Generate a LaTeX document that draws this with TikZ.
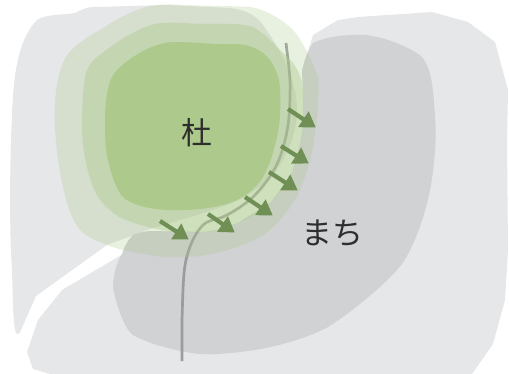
\documentclass[tikz,border=0pt]{standalone}
\usepackage{fontspec}
\newfontfamily\cjk{Noto Sans CJK JP}
\usetikzlibrary{arrows.meta}
\definecolor{lightgray}{HTML}{E6E7E9}
\definecolor{darkgray}{HTML}{D1D2D4}
\definecolor{forest}{HTML}{ADC98B}
\definecolor{arrowgreen}{HTML}{6F8F55}
\definecolor{road}{HTML}{9A9C9F}
\definecolor{ink}{HTML}{2E2E2E}
\tikzset{
  blob/.style={draw=none},
  flow/.style={draw=arrowgreen,line width=4.2pt,-{Triangle[length=15pt,width=18pt,fill=arrowgreen]},shorten >=-1pt},
  lab/.style={text=ink,font=\cjk\fontsize{31}{31}\selectfont,inner sep=0pt}
}
\begin{document}
\begin{tikzpicture}[x=1pt,y=-1pt]
\useasboundingbox (0,0) rectangle (509,374);
% left grey blob
\fill[lightgray] (17,334) .. controls (13,332) and (13,300) .. (12,270)
  .. controls (9,230) and (10,150) .. (12,117)
  .. controls (13,80) and (17,40) .. (37,20)
  .. controls (45,14) and (65,15) .. (75,13)
  .. controls (82,10) and (85,7) .. (95,7)
  -- (167,5) -- (230,8)
  .. controls (245,10) and (255,14) .. (263,25)
  .. controls (275,42) and (297,75) .. (297,110)
  .. controls (297,135) and (285,165) .. (265,182)
  .. controls (245,200) and (225,206) .. (200,214)
  -- (150,229) -- (107,245) -- (36,296)
  -- (21,330) .. controls (20,333) and (18,335) .. (17,334) -- cycle;
% right grey blob
\fill[lightgray] (27,352) -- (33,369) -- (50,374) -- (472,374) -- (493,344)
  -- (505,300) -- (508,250) -- (507,143) -- (508,90) -- (495,42) -- (468,22) -- (432,12)
  -- (358,17) -- (338,20) -- (313,35) -- (302,70)
  .. controls (303,90) and (304,115) .. (302,133)
  .. controls (299,150) and (295,165) .. (290,177)
  .. controls (280,190) and (275,198) .. (270,203)
  .. controls (255,213) and (245,218) .. (240,222)
  .. controls (225,228) and (215,231) .. (203,232)
  -- (150,231) .. controls (143,232) and (137,233) .. (133,235)
  -- (123,254) -- (62,290) -- (38,320) -- cycle;
% dark grey blob
\fill[darkgray] (302,72) .. controls (304,60) and (308,50) .. (313,43)
  .. controls (325,37) and (345,34) .. (365,35)
  .. controls (385,37) and (410,47) .. (422,57)
  .. controls (430,67) and (433,80) .. (435,117)
  .. controls (437,140) and (434,170) .. (430,190)
  .. controls (425,215) and (415,245) .. (402,264)
  .. controls (390,280) and (355,310) .. (328,327)
  .. controls (310,337) and (280,346) .. (255,350)
  .. controls (235,353) and (215,355) .. (200,354)
  .. controls (185,353) and (150,345) .. (133,335)
  .. controls (125,330) and (116,305) .. (113,287)
  .. controls (113,275) and (117,262) .. (122,254)
  .. controls (125,245) and (128,240) .. (133,235)
  .. controls (137,233) and (143,232) .. (150,231)
  -- (203,232)
  .. controls (215,231) and (225,228) .. (240,222)
  .. controls (245,218) and (255,213) .. (270,203)
  .. controls (275,198) and (280,190) .. (290,177)
  .. controls (295,165) and (299,150) .. (302,133)
  .. controls (304,115) and (303,90) .. (302,72) -- cycle;
% road line
\coordinate (roadstart) at (286,43);
\coordinate (roadend) at (182,361);
\draw[road,line width=2.7pt] (roadstart)
  .. controls (288,60) and (291,80) .. (290,93)
  .. controls (290,115) and (288,135) .. (280,157)
  .. controls (276,168) and (268,182) .. (253,197)
  .. controls (243,206) and (233,212) .. (223,217)
  .. controls (213,220) and (207,221) .. (203,225)
  .. controls (195,233) and (190,245) .. (187,256)
  .. controls (183,270) and (183,290) .. (182,320)
  -- (roadend);
% forest layers
\fill[forest,fill opacity=.28] (55,127)
  .. controls (54,105) and (55,75) .. (67,55)
  .. controls (75,45) and (90,35) .. (100,30)
  .. controls (115,20) and (130,12) .. (143,8)
  .. controls (155,4) and (170,4) .. (185,5)
  .. controls (210,6) and (235,6) .. (250,7)
  .. controls (265,9) and (283,20) .. (293,30)
  .. controls (302,40) and (313,62) .. (318,77)
  .. controls (319,90) and (318,115) .. (315,133)
  .. controls (313,155) and (305,180) .. (297,197)
  .. controls (290,208) and (280,222) .. (270,230)
  .. controls (260,238) and (248,243) .. (237,247)
  .. controls (220,253) and (200,257) .. (183,257)
  .. controls (170,258) and (160,257) .. (150,255)
  .. controls (135,253) and (120,250) .. (107,245)
  .. controls (95,240) and (87,237) .. (80,230)
  .. controls (72,220) and (67,205) .. (63,187)
  .. controls (58,165) and (56,145) .. (55,127) -- cycle;
\fill[forest,fill opacity=.42] (82,127)
  .. controls (82,105) and (83,90) .. (85,77)
  .. controls (87,68) and (92,60) .. (97,57)
  .. controls (110,47) and (122,38) .. (133,33)
  .. controls (143,27) and (155,23) .. (163,23)
  .. controls (180,22) and (195,24) .. (200,24)
  -- (230,24) .. controls (240,24) and (247,25) .. (253,27)
  .. controls (262,32) and (268,38) .. (273,43)
  .. controls (282,52) and (289,58) .. (293,63)
  .. controls (298,70) and (301,77) .. (302,83)
  .. controls (304,100) and (303,120) .. (302,133)
  .. controls (299,150) and (295,165) .. (290,177)
  .. controls (282,190) and (275,198) .. (270,203)
  .. controls (258,213) and (248,218) .. (240,222)
  .. controls (225,228) and (215,232) .. (203,232)
  .. controls (195,233) and (190,232) .. (187,232)
  .. controls (170,233) and (155,229) .. (140,225)
  .. controls (125,220) and (117,217) .. (110,210)
  .. controls (102,203) and (97,197) .. (93,187)
  .. controls (87,170) and (82,150) .. (82,127) -- cycle;
\fill[forest] (105,120)
  .. controls (105,105) and (107,85) .. (113,75)
  .. controls (120,65) and (135,55) .. (145,50)
  .. controls (155,45) and (165,42) .. (175,42)
  .. controls (195,42) and (220,45) .. (235,44)
  .. controls (250,44) and (262,50) .. (270,60)
  .. controls (276,68) and (280,80) .. (280,90)
  .. controls (281,105) and (280,125) .. (277,137)
  .. controls (274,150) and (270,165) .. (263,177)
  .. controls (255,190) and (243,198) .. (230,203)
  .. controls (215,208) and (190,211) .. (170,210)
  .. controls (155,210) and (135,206) .. (125,199)
  .. controls (115,190) and (110,170) .. (107,155)
  .. controls (105,145) and (105,130) .. (105,120) -- cycle;
% arrows
\coordinate (a1s) at (288,109); \coordinate (a1e) at (315,127);
\coordinate (a2s) at (281,146); \coordinate (a2e) at (308,163);
\coordinate (a3s) at (269,172); \coordinate (a3e) at (297,190);
\coordinate (a4s) at (245,197); \coordinate (a4e) at (272,215);
\coordinate (a5s) at (208,214); \coordinate (a5e) at (234,232);
\coordinate (a6s) at (160,221); \coordinate (a6e) at (188,239);
\draw[flow] (a1s) -- (a1e);
\draw[flow] (a2s) -- (a2e);
\draw[flow] (a3s) -- (a3e);
\draw[flow] (a4s) -- (a4e);
\draw[flow] (a5s) -- (a5e);
\draw[flow] (a6s) -- (a6e);
\node[lab] (mori) at (197,133) {杜};
\node[lab] (machi) at (332,233) {まち};
\end{tikzpicture}
\end{document}
